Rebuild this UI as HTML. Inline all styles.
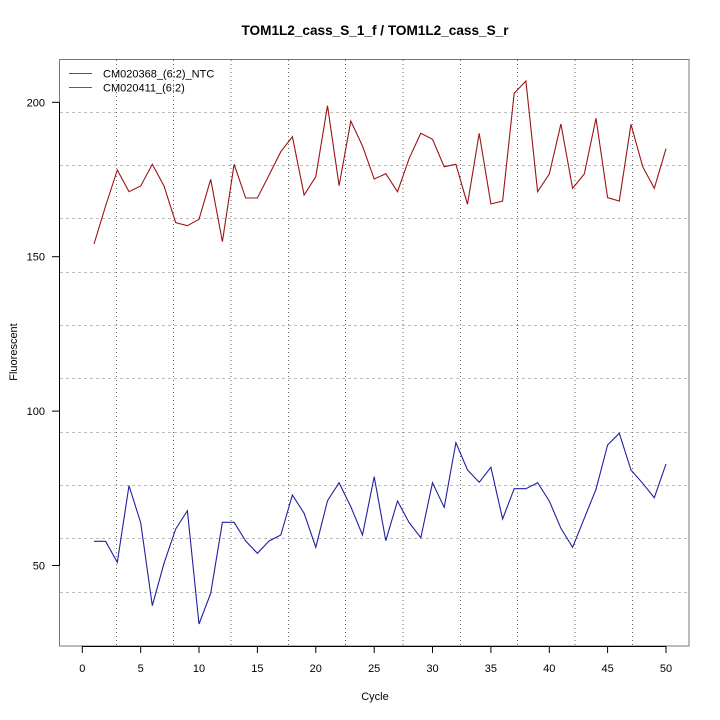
<!DOCTYPE html>
<html><head><meta charset="utf-8"><style>
html,body{margin:0;padding:0;background:#fff;}
svg{display:block;font-family:"Liberation Sans",Arial,sans-serif;}
</style></head><body>
<svg width="720" height="720" viewBox="0 0 720 720" xmlns="http://www.w3.org/2000/svg">
<rect width="720" height="720" fill="#fff"/>
<!-- horizontal grid -->
<g stroke="#bdbdbd" stroke-width="1" stroke-dasharray="3,3">
<line x1="60" y1="112.5" x2="689" y2="112.5"/>
<line x1="60" y1="165.5" x2="689" y2="165.5"/>
<line x1="60" y1="218.5" x2="689" y2="218.5"/>
<line x1="60" y1="272.5" x2="689" y2="272.5"/>
<line x1="60" y1="325.5" x2="689" y2="325.5"/>
<line x1="60" y1="378.5" x2="689" y2="378.5"/>
<line x1="60" y1="432.5" x2="689" y2="432.5"/>
<line x1="60" y1="485.5" x2="689" y2="485.5"/>
<line x1="60" y1="538.5" x2="689" y2="538.5"/>
<line x1="60" y1="592.5" x2="689" y2="592.5"/>
</g>
<!-- vertical grid -->
<g stroke="#666" stroke-width="1" stroke-dasharray="1,3">
<line x1="116.5" y1="60" x2="116.5" y2="646"/>
<line x1="173.5" y1="60" x2="173.5" y2="646"/>
<line x1="231" y1="60" x2="231" y2="646"/>
<line x1="288.5" y1="60" x2="288.5" y2="646"/>
<line x1="345.5" y1="60" x2="345.5" y2="646"/>
<line x1="403" y1="60" x2="403" y2="646"/>
<line x1="460.5" y1="60" x2="460.5" y2="646"/>
<line x1="517.5" y1="60" x2="517.5" y2="646"/>
<line x1="575" y1="60" x2="575" y2="646"/>
<line x1="632.5" y1="60" x2="632.5" y2="646"/>
</g>
<!-- box -->
<rect x="59.5" y="59.5" width="629.5" height="586.5" fill="none" stroke="#777" stroke-width="1"/>
<!-- axes -->
<g stroke="#000" stroke-width="1">
<line x1="59.5" y1="102.3" x2="59.5" y2="565.5"/>
<line x1="52" y1="102.3" x2="59.5" y2="102.3"/>
<line x1="52" y1="256.7" x2="59.5" y2="256.7"/>
<line x1="52" y1="411.1" x2="59.5" y2="411.1"/>
<line x1="52" y1="565.5" x2="59.5" y2="565.5"/>
<line x1="82.3" y1="646.5" x2="666" y2="646.5"/>
<line x1="82.3" y1="646" x2="82.3" y2="653"/>
<line x1="140.7" y1="646" x2="140.7" y2="653"/>
<line x1="199" y1="646" x2="199" y2="653"/>
<line x1="257.4" y1="646" x2="257.4" y2="653"/>
<line x1="315.8" y1="646" x2="315.8" y2="653"/>
<line x1="374.2" y1="646" x2="374.2" y2="653"/>
<line x1="432.5" y1="646" x2="432.5" y2="653"/>
<line x1="490.9" y1="646" x2="490.9" y2="653"/>
<line x1="549.3" y1="646" x2="549.3" y2="653"/>
<line x1="607.6" y1="646" x2="607.6" y2="653"/>
<line x1="666" y1="646" x2="666" y2="653"/>
</g>
<g font-size="11" fill="#000" text-anchor="end">
<text x="45" y="106.3">200</text>
<text x="45" y="260.7">150</text>
<text x="45" y="415.1">100</text>
<text x="45" y="569.5">50</text>
</g>
<g font-size="11" fill="#000" text-anchor="middle">
<text x="82.3" y="672">0</text>
<text x="140.7" y="672">5</text>
<text x="199" y="672">10</text>
<text x="257.4" y="672">15</text>
<text x="315.8" y="672">20</text>
<text x="374.2" y="672">25</text>
<text x="432.5" y="672">30</text>
<text x="490.9" y="672">35</text>
<text x="549.3" y="672">40</text>
<text x="607.6" y="672">45</text>
<text x="666" y="672">50</text>
<text x="375" y="700">Cycle</text>
<text x="0" y="0" transform="translate(17,352) rotate(-90)">Fluorescent</text>
</g>
<text x="375" y="35" font-size="13.6" font-weight="bold" text-anchor="middle" fill="#000">TOM1L2_cass_S_1_f / TOM1L2_cass_S_r</text>
<!-- legend -->
<line x1="69" y1="73.5" x2="92" y2="73.5" stroke="#a33" stroke-width="1"/>
<line x1="69" y1="87.5" x2="92" y2="87.5" stroke="#5555b5" stroke-width="1"/>
<g font-size="11" fill="#000">
<text x="103" y="77.5">CM020368_(6:2)_NTC</text>
<text x="103" y="91.5">CM020411_(6:2)</text>
</g>
<!-- red series -->
<polyline fill="none" stroke="#9b1414" stroke-width="1.1" points="94,244 105.6,206 117.3,170 129,191.7 140.7,186 152.3,164.3 164,186 175.7,222.7 187.4,225.7 199,219.3 210.7,179.3 222.4,241.7 234.1,164.3 245.7,198 257.4,198 269.1,175 280.8,151.7 292.4,136.7 304.1,195 315.8,176.7 327.5,105.7 339.1,185.7 350.8,121 362.5,146 374.2,179 385.8,173.7 397.5,191.7 409.2,158.3 420.8,133.3 432.5,139.3 444.2,166.7 455.9,164.3 467.5,204.3 479.2,133.3 490.9,204 502.6,201 514.2,93.3 525.9,81 537.6,191.7 549.3,174 560.9,124 572.6,188.3 584.3,174 596,118.3 607.6,197.7 619.3,201 631,124.3 642.7,166.7 654.3,188.3 666,148.7"/>
<!-- blue series -->
<polyline fill="none" stroke="#2020a0" stroke-width="1.1" points="94,541.3 105.6,541.3 117.3,562.3 129,485.7 140.7,522.7 152.3,605.7 164,563.3 175.7,529 187.4,510.7 199,624 210.7,593.3 222.4,522.3 234.1,522.3 245.7,541 257.4,553.3 269.1,541 280.8,535 292.4,495 304.1,513.3 315.8,547.3 327.5,500.7 339.1,482.7 350.8,506.7 362.5,535 374.2,476.7 385.8,540.7 397.5,501 409.2,522.7 420.8,537.7 432.5,482.7 444.2,507.3 455.9,442.7 467.5,470 479.2,482.3 490.9,467.3 502.6,519 514.2,488.7 525.9,488.7 537.6,482.7 549.3,501 560.9,528.3 572.6,547.3 584.3,518.3 596,489.3 607.6,445 619.3,433.3 631,470 642.7,483.3 654.3,497.7 666,464"/>
</svg>
</body></html>
